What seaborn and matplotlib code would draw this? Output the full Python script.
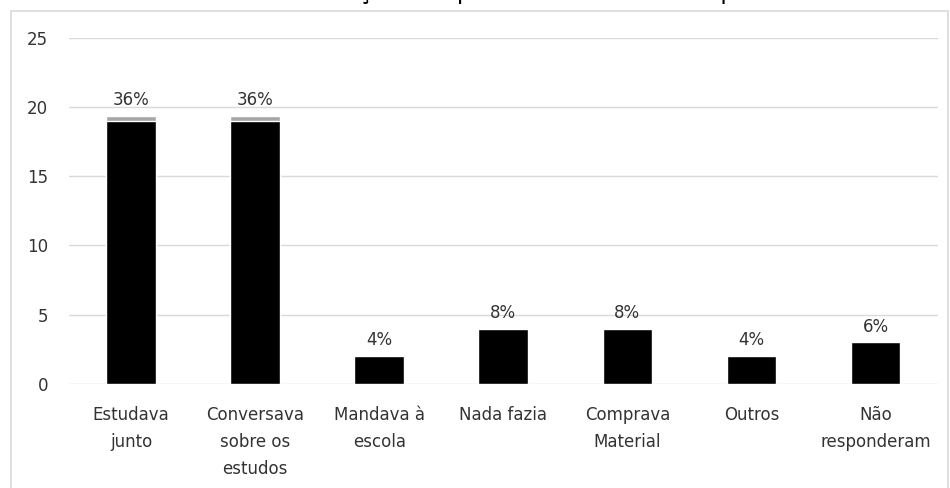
import matplotlib
matplotlib.use("Agg")
import matplotlib.pyplot as plt
from matplotlib.patches import Rectangle
import seaborn as sns
import pandas as pd

# Dados
categorias = ["Estudava\njunto", "Conversava\nsobre os\nestudos", "Mandava à\nescola",
              "Nada fazia", "Comprava\nMaterial", "Outros", "Não\nresponderam"]
respostas = [19, 19, 2, 4, 4, 2, 3]
destaque = [0.35, 0.35, 0, 0, 0, 0, 0]
yticks = [0, 5, 10, 15, 20, 25]
titulo = "Gráfico 3 – Colaboração dos pais durante o ensino presencial"

total = sum(respostas)
percentuais = [f"{round(100 * v / total):.0f}%" for v in respostas]

df = pd.DataFrame({
    "categoria": categorias,
    "respostas": respostas,
    "topo": [r + d for r, d in zip(respostas, destaque)],
})

sns.set_theme(style="white")
plt.rcParams["font.family"] = ["DejaVu Sans"]
texto = "#333333"

fig = plt.figure(figsize=(9.5, 4.88), dpi=100)
ax = fig.add_axes([0.0726, 0.2131, 0.9144, 0.7096])

sns.barplot(data=df, x="categoria", y="topo", color="#a6a6a6", width=0.4,
            saturation=1, ax=ax, zorder=2)
sns.barplot(data=df, x="categoria", y="respostas", color="black", width=0.4,
            saturation=1, ax=ax, zorder=3)

ax.set_ylim(0, 25)
ax.set_xlim(-0.5, len(categorias) - 0.5)
ax.set_yticks(yticks)
ax.yaxis.grid(True, color="#d9d9d9", linewidth=1)
ax.set_axisbelow(True)
for s in ax.spines.values():
    s.set_visible(False)
ax.set_xlabel("")
ax.set_ylabel("")
ax.tick_params(axis="y", length=0, pad=15, labelsize=12, labelcolor=texto)
ax.tick_params(axis="x", length=0, pad=16, labelsize=12, labelcolor=texto)
for lbl in ax.get_xticklabels():
    lbl.set_linespacing(1.65)
    lbl.set_ha("center")

for i, (t, p) in enumerate(zip(df["topo"], percentuais)):
    ax.annotate(p, (i, t), xytext=(0, 5), textcoords="offset points",
                ha="center", va="bottom", fontsize=12, color=texto)

# moldura do gráfico
fig.patches.append(Rectangle((11 / 950, -0.01), 937 / 950, 1 - 11 / 488 + 0.01,
                             transform=fig.transFigure, fill=False,
                             edgecolor="#d9d9d9", linewidth=1.2))

fig.text(480 / 950, 1 + 1 / 488, titulo, ha="center", va="baseline",
         fontsize=17, color="black")

fig.savefig("out.png", dpi=100)
